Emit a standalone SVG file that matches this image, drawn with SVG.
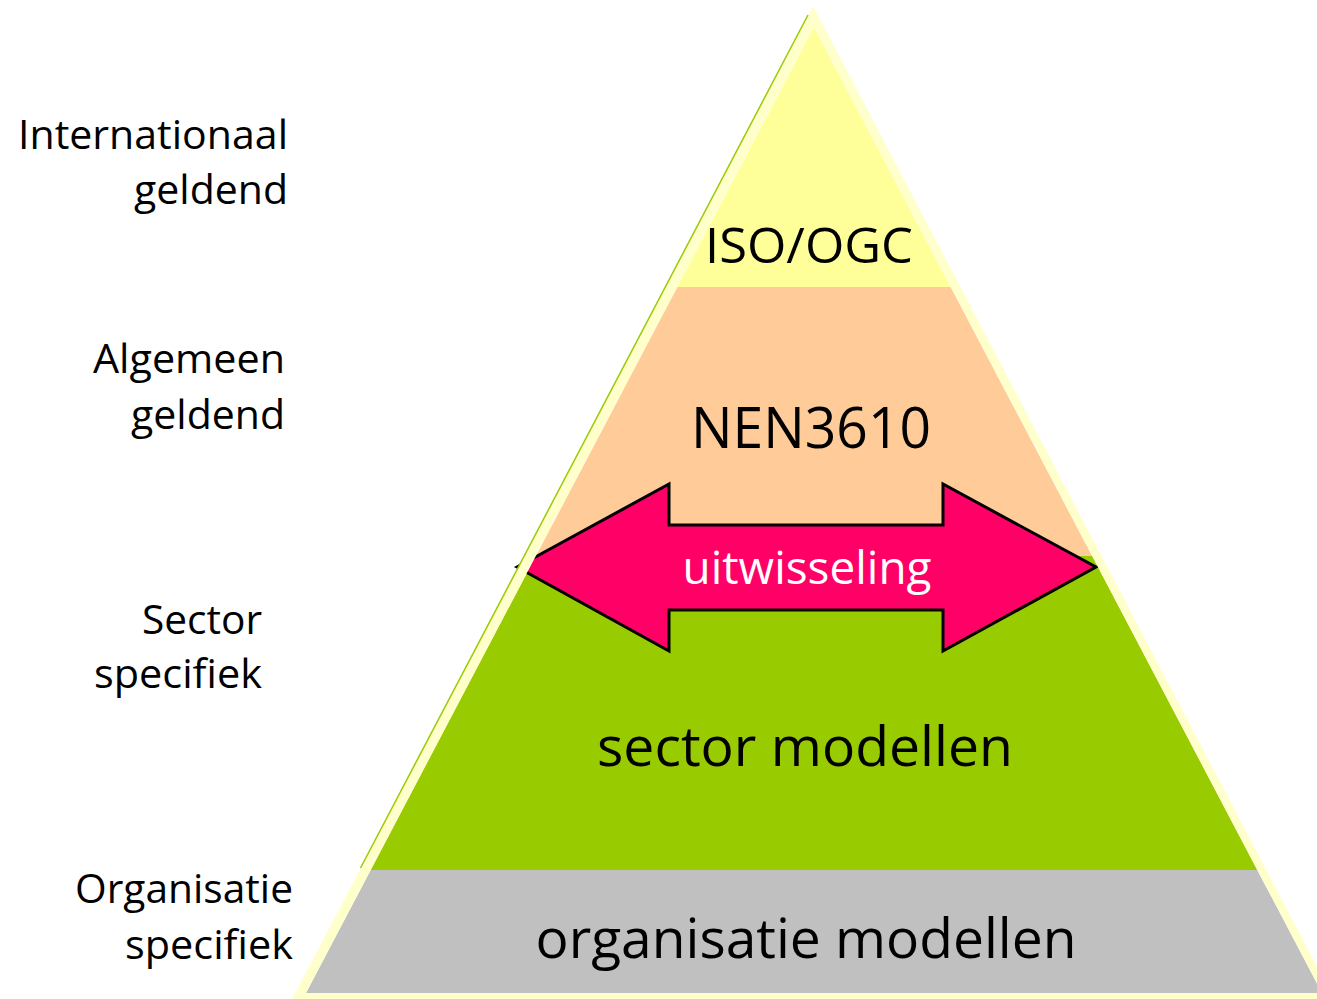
<svg xmlns="http://www.w3.org/2000/svg" width="1317" height="999" viewBox="0 0 1317 999">
<style>
  text { font-family: "Open Sans", "Liberation Sans", sans-serif; fill: #000; }
  .side { font-size: 41px; text-anchor: end; }
  .lvl { font-size: 55px; text-anchor: middle; }
</style>
<defs>
  <clipPath id="tri">
    <polygon points="814,27 1322,993 306,993"/>
  </clipPath>
</defs>
<rect x="0" y="0" width="1317" height="999" fill="#FFFFFF"/>

<g id="labels">
  <text class="side" x="288" y="149" textLength="270" lengthAdjust="spacingAndGlyphs">Internationaal</text>
  <text class="side" x="288" y="204">geldend</text>
  <text class="side" x="285" y="373" textLength="192" lengthAdjust="spacingAndGlyphs">Algemeen</text>
  <text class="side" x="285" y="429">geldend</text>
  <text class="side" x="262" y="634" textLength="120" lengthAdjust="spacingAndGlyphs">Sector</text>
  <text class="side" x="262" y="688" textLength="168" lengthAdjust="spacingAndGlyphs">specifiek</text>
  <text class="side" x="293" y="903" textLength="218" lengthAdjust="spacingAndGlyphs">Organisatie</text>
  <text class="side" x="293" y="959" textLength="168" lengthAdjust="spacingAndGlyphs">specifiek</text>
</g>

<g id="pyramid" clip-path="url(#tri)">
  <rect id="level-iso" x="0" y="0" width="1317" height="287" fill="#FFFF99"/>
  <rect id="level-nen" x="0" y="287" width="1317" height="269" fill="#FFCC99"/>
  <rect id="level-sector" x="0" y="556" width="1317" height="314" fill="#99CC00"/>
  <rect id="level-org" x="0" y="870" width="1317" height="129" fill="#C0C0C0"/>
</g>

<g id="level-texts">
  <text class="lvl" x="809" y="263" style="font-size:50px" textLength="208" lengthAdjust="spacingAndGlyphs">ISO/OGC</text>
  <text class="lvl" x="811" y="448" style="font-size:56px" textLength="240" lengthAdjust="spacingAndGlyphs">NEN3610</text>
  <text class="lvl" x="805" y="766" textLength="416" lengthAdjust="spacingAndGlyphs">sector modellen</text>
  <text class="lvl" x="806" y="958" textLength="541" lengthAdjust="spacingAndGlyphs">organisatie modellen</text>
</g>

<g id="arrow">
  <polygon points="517,567 669,484 669,525 943,525 943,484 1096,567 943,651 943,610 669,610 669,651" fill="#FF0066" stroke="#000" stroke-width="3" stroke-linejoin="miter"/>
  <text x="807" y="584" style="font-size:45px;fill:#FFFFFF;text-anchor:middle" textLength="249" lengthAdjust="spacingAndGlyphs">uitwisseling</text>
</g>

<g id="border">
  <path d="M813,6 L1334,999 L292,999 Z M814,27 L306,993 L1322,993 Z" fill="#FFFFCC" fill-rule="evenodd"/>
  <line x1="808" y1="15" x2="360.5" y2="868" stroke="#99CC00" stroke-width="1.5"/>
</g>
</svg>
